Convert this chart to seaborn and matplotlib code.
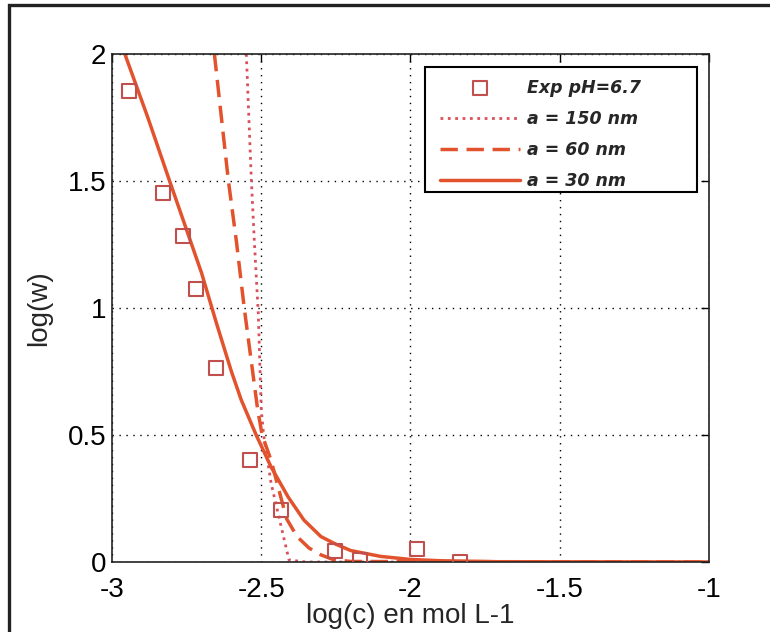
import numpy as np
import pandas as pd
import matplotlib
matplotlib.use("Agg")
import matplotlib.pyplot as plt
import seaborn as sns
from matplotlib.patches import Rectangle

# --- dados ---
exp_x = [-2.943, -2.830, -2.763, -2.720, -2.653, -2.537, -2.433, -2.253, -2.170, -1.977, -1.833]
exp_y = [1.854, 1.453, 1.283, 1.075, 0.764, 0.400, 0.205, 0.043, 0.008, 0.050, 0.000]

a30_x = [-2.957, -2.880, -2.807, -2.700, -2.650, -2.600, -2.567, -2.517, -2.467, -2.410,
         -2.357, -2.300, -2.250, -2.200, -2.100, -2.000, -1.900, -1.700, -1.000]
a30_y = [2.000, 1.750, 1.500, 1.138, 0.940, 0.750, 0.638, 0.500, 0.374, 0.256,
         0.165, 0.100, 0.070, 0.045, 0.022, 0.010, 0.005, 0.001, 0.000]

a60_x = [-2.657, -2.610, -2.583, -2.557, -2.530, -2.512, -2.497, -2.467, -2.440, -2.415,
         -2.380, -2.340, -2.300, -2.260, -2.200, -1.000]
a60_y = [2.000, 1.500, 1.260, 1.000, 0.760, 0.600, 0.500, 0.400, 0.280, 0.170,
         0.100, 0.055, 0.028, 0.010, 0.002, 0.000]

a150_x = [-2.550, -2.533, -2.523, -2.510, -2.500, -2.492, -2.467, -2.433, -2.407, -2.350, -1.000]
a150_y = [2.000, 1.500, 1.260, 0.980, 0.600, 0.500, 0.310, 0.138, 0.008, 0.000, 0.000]

# --- estilo ---
sns.set_style("white")
plt.rcParams['font.family'] = ['Liberation Sans', 'DejaVu Sans']

cor_linha = '#e2532d'
cor_pontos = '#c0504d'

fig = plt.figure(figsize=(7.7, 6.32), dpi=100)
ax = fig.add_axes([112 / 770, 70 / 632, 597 / 770, 508 / 632])

# moldura externa da figura
fig.patches.append(Rectangle((9 / 770, -0.05), 1.2, 1 - 5 / 632 + 0.05,
                             transform=fig.transFigure, fill=False,
                             edgecolor='#222222', linewidth=2.4, zorder=0))

df_exp = pd.DataFrame({'x': exp_x, 'y': exp_y})
df150 = pd.DataFrame({'x': a150_x, 'y': a150_y})
df60 = pd.DataFrame({'x': a60_x, 'y': a60_y})
df30 = pd.DataFrame({'x': a30_x, 'y': a30_y})

sns.scatterplot(data=df_exp, x='x', y='y', marker='s', s=100, facecolor='none',
                edgecolor=cor_pontos, linewidth=1.5, ax=ax, label='Exp pH=6.7', zorder=5)
sns.lineplot(data=df150, x='x', y='y', sort=False, color='#d9505a', linestyle=':',
             linewidth=2.0, ax=ax, label='a = 150 nm')
sns.lineplot(data=df60, x='x', y='y', sort=False, color=cor_linha, linestyle=(0, (5, 2.5)),
             linewidth=2.5, ax=ax, label='a = 60 nm')
sns.lineplot(data=df30, x='x', y='y', sort=False, color=cor_linha, linestyle='-',
             linewidth=2.5, ax=ax, label='a = 30 nm')

ax.set_xlim(-3, -1)
ax.set_ylim(0, 2)
ax.set_xticks([-3, -2.5, -2, -1.5, -1])
ax.set_yticks([0, 0.5, 1, 1.5, 2])
ax.set_xticklabels(['-3', '-2.5', '-2', '-1.5', '-1'])
ax.set_yticklabels(['0', '0.5', '1', '1.5', '2'])
ax.tick_params(direction='in', length=6, width=1, top=True, right=True,
               labelsize=20, colors='black', pad=4)
ax.tick_params(axis='x', pad=11)
ax.grid(True, color='black', linestyle=(0, (1, 4)), linewidth=1)
for s in ax.spines.values():
    s.set_color('#222222')
    s.set_linewidth(1.2)

ax.set_xlabel('log(c) en mol L-1', fontsize=20, labelpad=0)
ax.set_ylabel('log(w)', fontsize=20, labelpad=11)

# legenda sem moldura + caixa desenhada à parte (estilo MATLAB, com folga à direita)
leg = ax.legend(loc='upper left', bbox_to_anchor=(0.549, 0.951), frameon=False,
                prop={'family': 'DejaVu Sans', 'weight': 'bold', 'style': 'italic', 'size': 12.5},
                handlelength=4.6, labelspacing=0.75, borderpad=0, handletextpad=0.4,
                borderaxespad=0)
ax.add_patch(Rectangle((0.524, 0.728), 0.456, 0.246, transform=ax.transAxes,
                       facecolor='white', edgecolor='black', linewidth=1.5, zorder=6))
leg.set_zorder(7)

fig.savefig('out.png', dpi=100)
